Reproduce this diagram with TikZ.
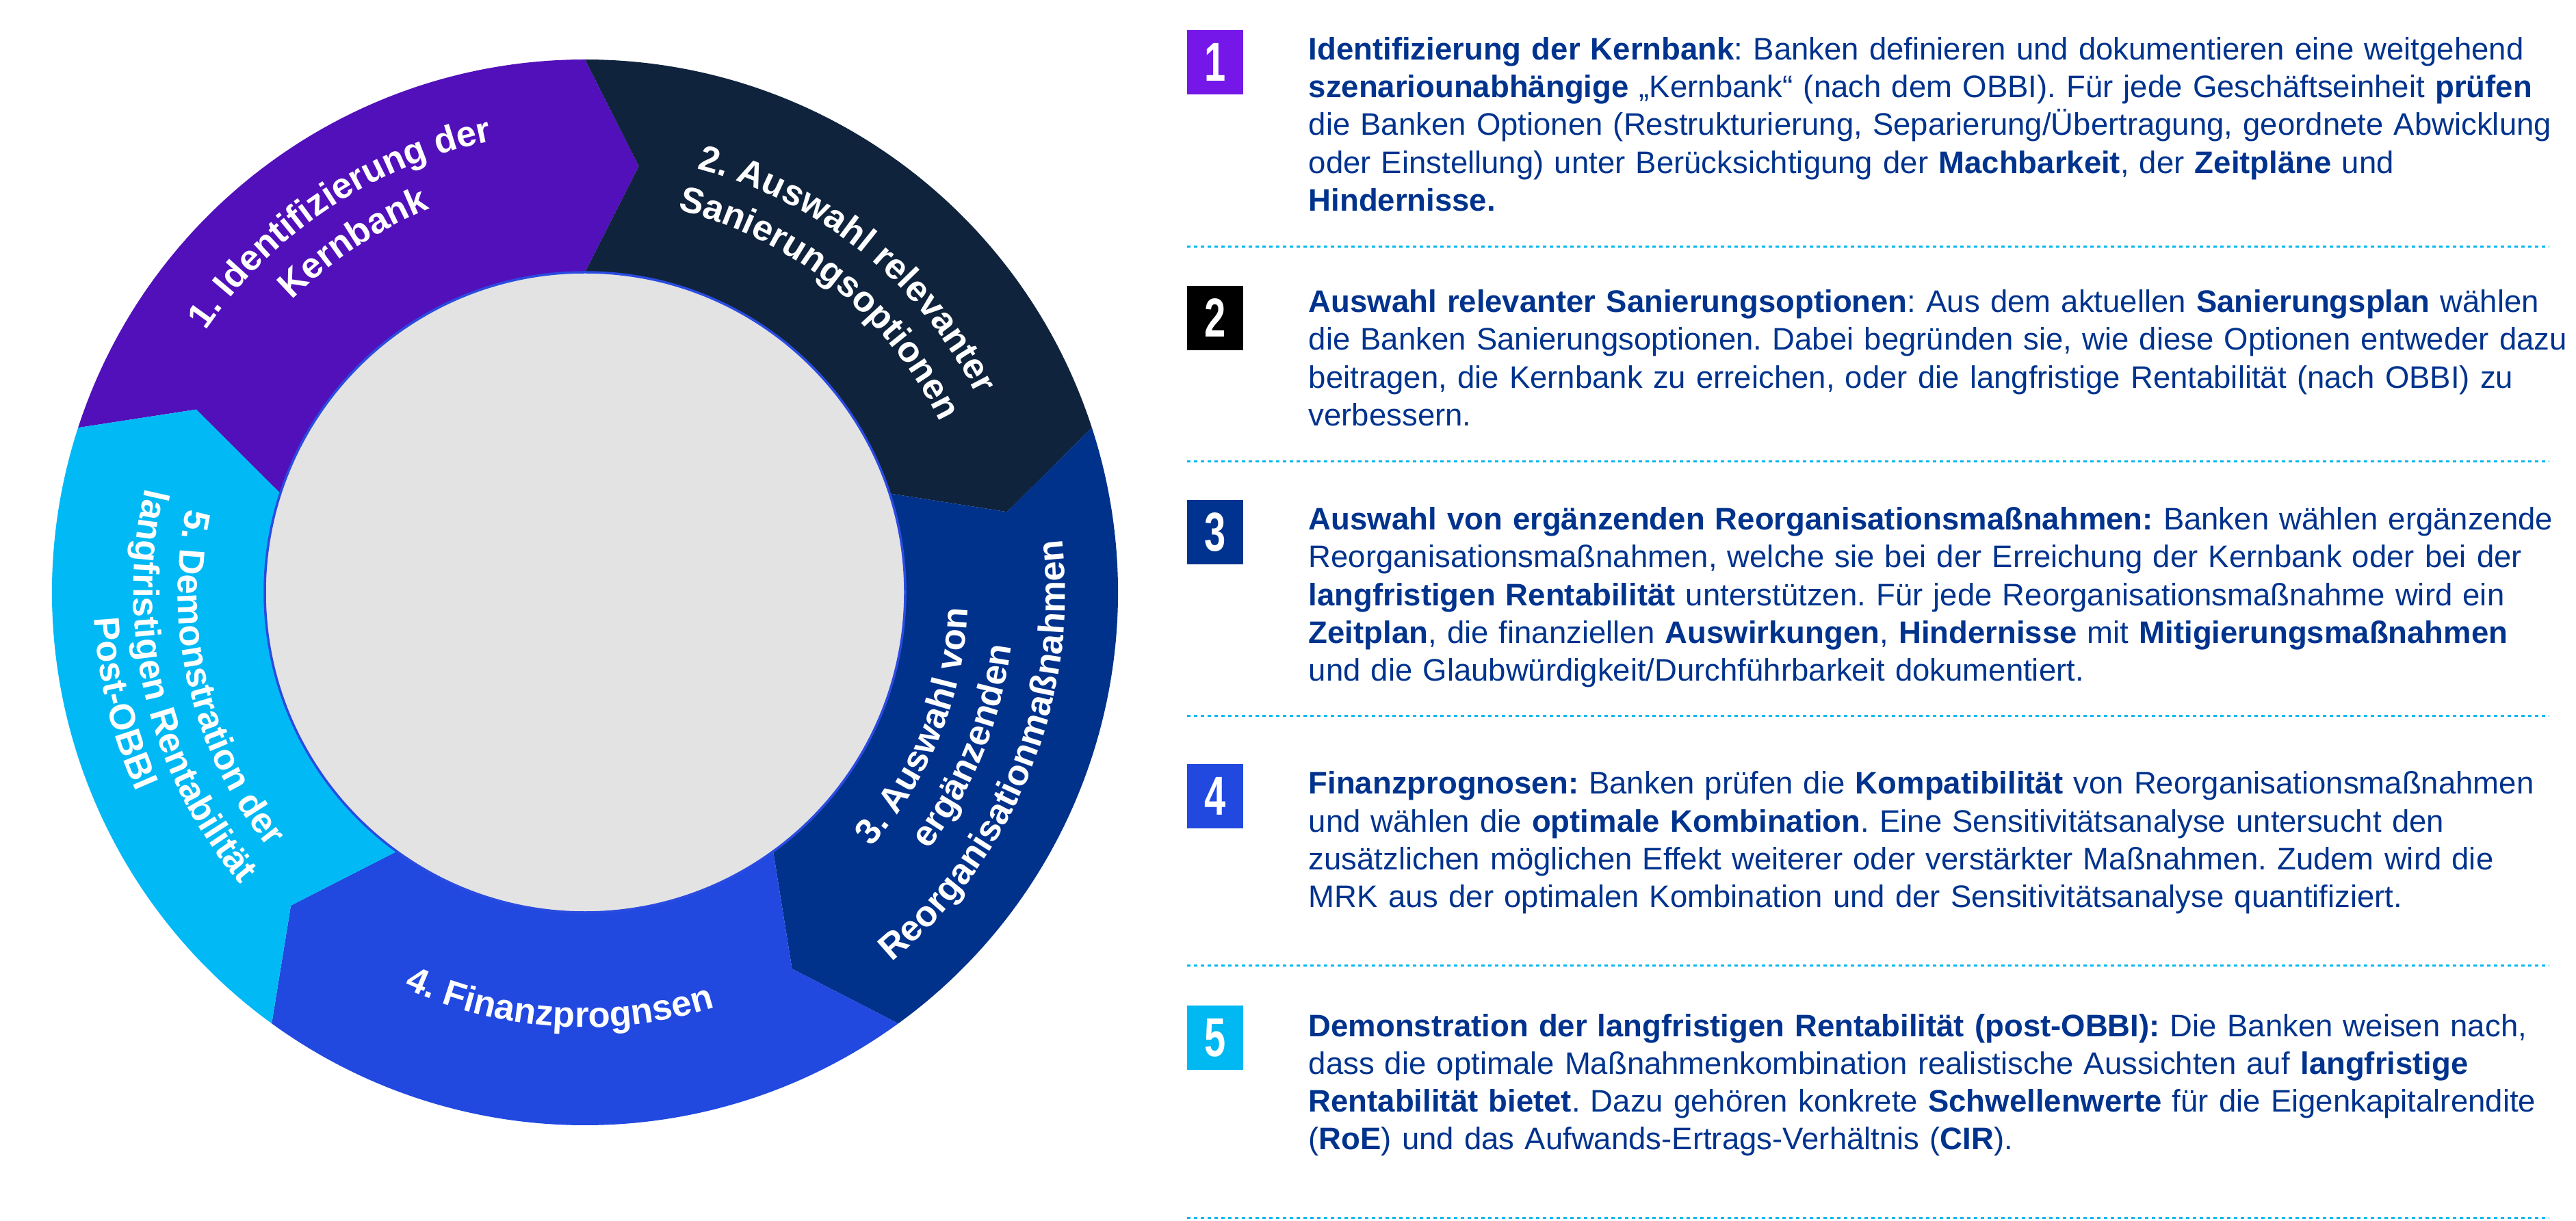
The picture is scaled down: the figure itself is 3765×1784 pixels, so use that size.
\documentclass[tikz,border=0pt]{standalone}
\usepackage{fontspec}
\setmainfont{Liberation Sans}
\usepackage{graphicx}
\usetikzlibrary{decorations.text}

\definecolor{seg1}{HTML}{5210BB}
\definecolor{seg2}{HTML}{0F233D}
\definecolor{seg3}{HTML}{00328C}
\definecolor{seg4}{HTML}{2149E0}
\definecolor{seg5}{HTML}{00B9F5}
\definecolor{box1}{HTML}{7417E8}
\definecolor{box3}{HTML}{00338F}
\definecolor{box5}{HTML}{00B8F2}
\definecolor{txtblue}{HTML}{00338D}
\definecolor{sepcyan}{HTML}{00B8F0}
\definecolor{innergrey}{HTML}{E3E3E3}
\definecolor{rimblue}{HTML}{2A4BE0}

\newcommand\segfont{\fontsize{15}{18}\selectfont\bfseries\color{white}}
\newcommand\boxnum[1]{\scalebox{0.7}[1]{\fontsize{22.8}{24}\selectfont\bfseries #1}}

\begin{document}
\begin{tikzpicture}[x=0.1mm, y=0.1mm,
  numbox/.style={minimum width=8.2mm, minimum height=9.4mm, inner sep=0pt, text=white},
  desc/.style={anchor=base west, text width=19cm, align=left, inner sep=0pt,
    text=txtblue, font=\fontsize{12.95}{15.65}\selectfont\frenchspacing},
  sepline/.style={sepcyan, line width=0.3mm, dash pattern=on 0.5mm off 0.5mm},
  seglabel/.style={decorate, decoration={text along path, text align=center,
    text={|\segfont|#1}}}]
\useasboundingbox (0,0) rectangle (3765,1784);

% ring
\begin{scope}[shift={(855,918)}]
  \foreach \col [count=\i] in {seg1,seg2,seg3,seg4,seg5}{
    \pgfmathsetmacro\segA{234-72*\i}
    \pgfmathsetmacro\segE{\segA-72}
    \fill[\col] (\segA:779) arc[start angle=\segA, end angle=\segE, radius=779]
      -- (\segE-7.2:628) -- (\segE:468)
      arc[start angle=\segE, end angle=\segA, radius=468]
      -- (\segA-7.2:628) -- cycle;
  }
  \draw[rimblue, line width=0.35mm, fill=innergrey] (0,0) circle[radius=468];

  \path[seglabel={1. Identifizierung der}] (173.5:674) arc[start angle=173.5, end angle=73.5, radius=674];
  \path[seglabel={Kernbank}] (173.5:605) arc[start angle=173.5, end angle=73.5, radius=605];
  \path[seglabel={2. Auswahl relevanter}] (101:641) arc[start angle=101, end angle=1, radius=641];
  \path[seglabel={Sanierungsoptionen}] (101:575) arc[start angle=101, end angle=1, radius=575];
  \path[seglabel={3. Auswahl von}] (-72:560) arc[start angle=-72, end angle=28, radius=560];
  \path[seglabel={ergänzenden}] (-72:628) arc[start angle=-72, end angle=28, radius=628];
  \path[seglabel={Reorganisationmaßnahmen}] (-72:702) arc[start angle=-72, end angle=28, radius=702];
  \path[seglabel={4. Finanzprognsen}] (-143.6:636) arc[start angle=-143.6, end angle=-43.6, radius=636];
  \path[seglabel={5. Demonstration der}] (143.5:595) arc[start angle=143.5, end angle=243.5, radius=595];
  \path[seglabel={langfristigen Rentabilität}] (143.5:660) arc[start angle=143.5, end angle=243.5, radius=660];
  \path[seglabel={Post-OBBI}] (143.5:718) arc[start angle=143.5, end angle=243.5, radius=718];
\end{scope}

% steps
\node[numbox, fill=box1] (b1) at (1776,1693) {\boxnum{1}};
\node[numbox, fill=black] (b2) at (1776,1319) {\boxnum{2}};
\node[numbox, fill=box3] (b3) at (1776,1006) {\boxnum{3}};
\node[numbox, fill=seg4] (b4) at (1776,620) {\boxnum{4}};
\node[numbox, fill=box5] (b5) at (1776,267) {\boxnum{5}};

\node[desc] (t1) at (1912,1696) {\textbf{Identifizierung der Kernbank}: Banken definieren und dokumentieren eine weitgehend\\
\textbf{szenariounabhängige} „Kernbank“ (nach dem OBBI). Für jede Geschäftseinheit \textbf{prüfen}\\
die Banken Optionen (Restrukturierung, Separierung/Übertragung, geordnete Abwicklung\\
oder Einstellung) unter Berücksichtigung der \textbf{Machbarkeit}, der \textbf{Zeitpläne} und\\
\textbf{Hindernisse.}};
\node[desc] (t2) at (1912,1327) {\textbf{Auswahl relevanter Sanierungsoptionen}: Aus dem aktuellen \textbf{Sanierungsplan} wählen\\
die Banken Sanierungsoptionen. Dabei begründen sie, wie diese Optionen entweder dazu\\
beitragen, die Kernbank zu erreichen, oder die langfristige Rentabilität (nach OBBI) zu\\
verbessern.};
\node[desc] (t3) at (1912,1009) {\textbf{Auswahl von ergänzenden Reorganisationsmaßnahmen:} Banken wählen ergänzende\\
Reorganisationsmaßnahmen, welche sie bei der Erreichung der Kernbank oder bei der\\
\textbf{langfristigen Rentabilität} unterstützen. Für jede Reorganisationsmaßnahme wird ein\\
\textbf{Zeitplan}, die finanziellen \textbf{Auswirkungen}, \textbf{Hindernisse} mit \textbf{Mitigierungsmaßnahmen}\\
und die Glaubwürdigkeit/Durchführbarkeit dokumentiert.};
\node[desc] (t4) at (1912,623) {\textbf{Finanzprognosen:} Banken prüfen die \textbf{Kompatibilität} von Reorganisationsmaßnahmen\\
und wählen die \textbf{optimale Kombination}. Eine Sensitivitätsanalyse untersucht den\\
zusätzlichen möglichen Effekt weiterer oder verstärkter Maßnahmen. Zudem wird die\\
MRK aus der optimalen Kombination und der Sensitivitätsanalyse quantifiziert.};
\node[desc] (t5) at (1912,269) {\textbf{Demonstration der langfristigen Rentabilität (post-OBBI):} Die Banken weisen nach,\\
dass die optimale Maßnahmenkombination realistische Aussichten auf \textbf{langfristige}\\
\textbf{Rentabilität bietet}. Dazu gehören konkrete \textbf{Schwellenwerte} für die Eigenkapitalrendite\\
(\textbf{RoE}) und das Aufwands-Ertrags-Verhältnis (\textbf{CIR}).};

\foreach \y in {1423,1109,737,373,4}
  \draw[sepline] (1735,\y) -- (3726,\y);
\end{tikzpicture}
\end{document}
